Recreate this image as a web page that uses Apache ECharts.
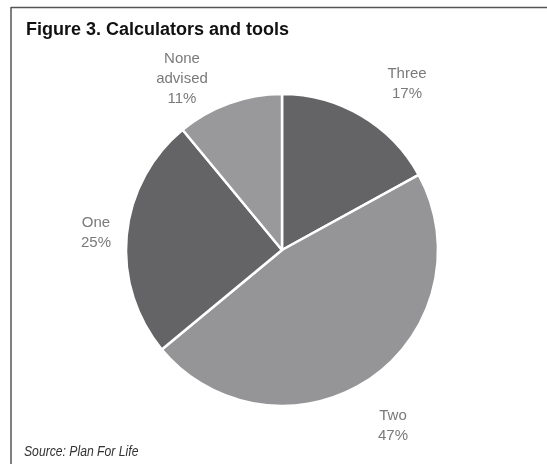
<!DOCTYPE html>
<html>
<head>
<meta charset="utf-8">
<script src="https://cdn.jsdelivr.net/npm/echarts@6/dist/echarts.min.js"></script>
<style>
  html, body { margin: 0; padding: 0; background: #ffffff; }
  #chart { width: 547px; height: 464px; }
</style>
</head>
<body>
<div id="chart"></div>
<script>
// Share of respondents by number of calculators/tools used
const categories = ['Three', 'Two', 'One', 'None advised'];
const shares = [17, 47, 25, 11];
const sliceColors = ['#646466', '#959597', '#646466', '#99999b'];
const labelTexts = ['Three\n17%', 'Two\n47%', 'One\n25%', 'None\nadvised\n11%'];

// Anchor points (centre of each label block) around the pie
const labelAnchors = {
  'Three': [407, 84],
  'Two': [393, 426],
  'One': [96, 233],
  'None advised': [182, 79]
};

const chart = echarts.init(document.getElementById('chart'), null, { renderer: 'canvas' });

const option = {
  backgroundColor: '#ffffff',
  animation: false,
  title: {
    text: 'Figure 3. Calculators and tools',
    left: 21,
    top: 16,
    textStyle: { fontFamily: 'Liberation Sans, Arial, sans-serif', fontSize: 18, fontWeight: 'bold', color: '#111111' }
  },
  graphic: [
    { type: 'line', shape: { x1: 11, y1: 7.5, x2: 547, y2: 7.5 }, style: { stroke: '#555555', lineWidth: 1.5 } },
    { type: 'line', shape: { x1: 11, y1: 7, x2: 11, y2: 464 }, style: { stroke: '#555555', lineWidth: 1.5 } },
    {
      type: 'text',
      x: 24,
      y: 452,
      scaleX: 0.87,
      style: {
        text: 'Source: Plan For Life',
        fontFamily: 'Liberation Sans, Arial, sans-serif',
        fontSize: 14,
        fontStyle: 'italic',
        fill: '#333333',
        verticalAlign: 'middle'
      }
    }
  ],
  series: [
    {
      type: 'pie',
      center: [282, 250],
      radius: [0, 156],
      startAngle: 90,
      clockwise: true,
      avoidLabelOverlap: false,
      itemStyle: { borderColor: '#ffffff', borderWidth: 2.5 },
      label: {
        show: true,
        position: 'outside',
        formatter: (p) => labelTexts[p.dataIndex],
        fontFamily: 'Liberation Sans, Arial, sans-serif',
        fontSize: 15,
        lineHeight: 20,
        color: '#7a7a7c',
        align: 'center'
      },
      labelLine: { show: false },
      labelLayout: (params) => {
        const a = labelAnchors[categories[params.dataIndex]];
        return { x: a[0], y: a[1], align: 'center', verticalAlign: 'middle' };
      },
      emphasis: { disabled: true },
      data: categories.map((name, i) => ({
        name: name,
        value: shares[i],
        itemStyle: { color: sliceColors[i] }
      }))
    }
  ]
};

chart.setOption(option);
</script>
</body>
</html>
